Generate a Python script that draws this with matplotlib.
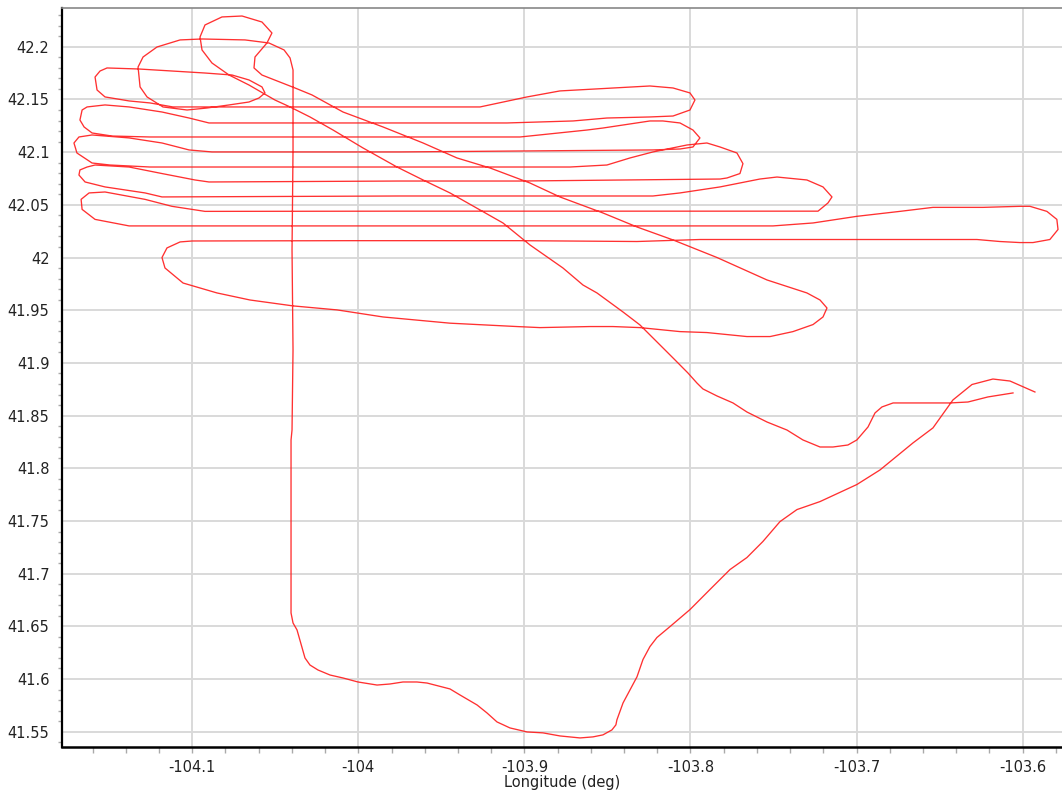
import numpy as np
import matplotlib
matplotlib.use('Agg')
import matplotlib.pyplot as plt
from matplotlib.ticker import MultipleLocator

# flight track (deg)
lon = [
    # start, west then south-east dip
    -103.6058, -103.6209, -103.6329, -103.6438, -103.654, -103.666, -103.678, -103.6847,
    -103.6889, -103.6931, -103.6998, -103.7052, -103.7142, -103.722, -103.7323, -103.7419,
    -103.7539, -103.766, -103.7744, -103.784, -103.7925, -103.7961, -103.8015, -103.8081,
    # steep diagonal to the north-west
    -103.8105, -103.8202, -103.8304, -103.8406, -103.8563, -103.8647, -103.8768, -103.8906,
    -103.8966, -103.9129, -103.9267, -103.9448, -103.961, -103.9767, -103.9972, -104.0152,
    -104.0291, -104.0411, -104.0502, -104.0658, -104.0778, -104.0881, -104.0941, -104.0953,
    # small loop at the top
    -104.0923, -104.0821, -104.07, -104.058, -104.052, -104.055, -104.0622, -104.0628,
    -104.058, -104.0381, -104.0279,
    # shallow diagonal to the south-east
    -104.0092, -103.9851, -103.961, -103.9406, -103.9207, -103.8966, -103.8786, -103.8527,
    -103.8322, -103.8105, -103.784, -103.7539, -103.7299, -103.722, -103.7178, -103.7202,
    -103.7262, -103.7383, -103.7521, -103.766, -103.7901, -103.8063, -103.8304, -103.8467,
    -103.8605, -103.8906, -103.9045, -103.9448, -103.9851, -104.0128, -104.0393, -104.0652,
    -104.0851, -104.1055, -104.1164, -104.1182, -104.1152, -104.1073, -104.1001,
    # leg 42.016 east, turn, leg 42.030 west
    -104.005, -103.9026, -103.8322, -103.7943, -103.6275, -103.6137, -103.6016, -103.5938,
    -103.5836, -103.5787, -103.5794, -103.5854, -103.5956, -103.6016, -103.6239, -103.654,
    -103.6739, -103.6998, -103.7262, -103.7503, -103.7943,
    -103.9749, -104.138, -104.1585, -104.1663, -104.1669, -104.1621, -104.1525, -104.1284,
    -104.1122, -104.0923,
    # leg 42.044 east, turn, leg 42.058 west
    -103.975, -103.7943, -103.7232, -103.7172, -103.7148, -103.7202, -103.7299, -103.7479,
    -103.7582, -103.7822, -103.8063, -103.8226,
    -103.975, -104.1182, -104.1284, -104.1525, -104.1645, -104.1682, -104.1676, -104.1633,
    -104.1585, -104.138, -104.1182, -104.0983, -104.0899,
    # leg 42.072 east, turn, leg 42.086 west
    -103.975, -103.9026, -103.7822, -103.778, -103.7702, -103.7684, -103.772, -103.7822,
    -103.7901, -103.8021, -103.8226, -103.8364, -103.8503, -103.8725, -103.9026,
    -103.975, -104.1254, -104.1495, -104.1603, -104.1694, -104.1712, -104.1682, -104.1603,
    -104.138, -104.1182, -104.1019, -104.0881,
    # leg 42.100 east, turn, leg 42.114 west
    -103.975, -103.9026, -103.8226, -103.8063, -103.7985, -103.7943, -103.7985, -103.8063,
    -103.8166, -103.8244, -103.8527, -103.8623, -103.9026,
    -103.975, -104.1254, -104.1483, -104.1603, -104.1651, -104.1676, -104.1663, -104.1633,
    -104.1525, -104.138, -104.1182, -104.1019, -104.0899,
    # leg 42.128 east, turn, leg 42.143 west
    -104.011, -103.9105, -103.8707, -103.8503, -103.8244, -103.8105, -103.8003, -103.7973,
    -103.8003, -103.8105, -103.8244, -103.8786, -103.8984, -103.9267, -103.9406,
    -104.0351, -104.0772, -104.1116, -104.1254, -104.138, -104.1525, -104.1573, -104.1585,
    -104.1555, -104.1513, -104.132, -104.1122, -104.0923, -104.076, -104.0658, -104.058,
    -104.0562, -104.0598, -104.0658, -104.0778, -104.0911, -104.1031, -104.1176, -104.1272,
    -104.1314, -104.1326, -104.1296, -104.1212, -104.1073, -104.0941, -104.0682, -104.0538,
    -104.0447, -104.0411, -104.0393,
    # run south, then back north-east
    -104.0393, -104.0399, -104.0393, -104.0399, -104.0405, -104.0405, -104.0405, -104.0393,
    -104.0369, -104.0321, -104.0291, -104.0243, -104.017, -104.0092, -104.0002, -103.9887,
    -103.9809, -103.9731, -103.9647, -103.9586, -103.9448, -103.9388, -103.9285, -103.9225,
    -103.9165, -103.9087, -103.8984, -103.8888, -103.8786, -103.8665, -103.8587, -103.8527,
    -103.8473, -103.8449, -103.8443, -103.8406, -103.8364, -103.8322, -103.8286, -103.8244,
    -103.8202, -103.8123, -103.8003, -103.7883, -103.7762, -103.766, -103.7564, -103.7461,
    -103.7359, -103.722, -103.6998, -103.6859, -103.666, -103.654, -103.642, -103.6305,
    -103.6179, -103.6076, -103.5926,
]
lat = [
    41.8715, 41.8677, 41.8629, 41.8620, 41.862, 41.862, 41.862, 41.8582,
    41.8525, 41.8392, 41.8269, 41.8221, 41.8202, 41.8202, 41.8269, 41.8363,
    41.8439, 41.8534, 41.862, 41.8686, 41.8753, 41.8809, 41.8904, 41.9009,
    41.9047, 41.9199, 41.936, 41.9483, 41.9664, 41.9739, 41.9901, 42.0053,
    42.0119, 42.0328, 42.0451, 42.0613, 42.0736, 42.0859, 42.104, 42.121,
    42.1334, 42.1429, 42.1495, 42.1637, 42.1732, 42.1846, 42.197, 42.2093,
    42.2207, 42.2283, 42.2292, 42.2235, 42.2131, 42.2036, 42.1903, 42.1799,
    42.1732, 42.1609, 42.1543,
    42.1381, 42.1239, 42.1087, 42.0945, 42.085, 42.0707, 42.0575, 42.0423,
    42.029, 42.0167, 42.0, 41.9787, 41.9664, 41.9597, 41.9521, 41.9436,
    41.9364, 41.9297, 41.925, 41.925, 41.9288, 41.9297, 41.9335, 41.9345,
    41.9345, 41.9335, 41.9345, 41.9377, 41.9436, 41.9503, 41.9541, 41.9597,
    41.9664, 41.9758, 41.9901, 42.0, 42.0091, 42.0148, 42.0157,
    42.016, 42.016, 42.0152, 42.0171, 42.0171, 42.0152, 42.0142, 42.0142,
    42.0171, 42.0266, 42.0362, 42.0438, 42.0486, 42.0486, 42.0476, 42.0476,
    42.0438, 42.0391, 42.0328, 42.030, 42.030,
    42.030, 42.030, 42.0362, 42.0457, 42.0552, 42.0613, 42.0622, 42.0552,
    42.0486, 42.0438,
    42.044, 42.044, 42.044, 42.0518, 42.0575, 42.067, 42.0736, 42.0764,
    42.0745, 42.067, 42.0613, 42.0584,
    42.0584, 42.0575, 42.0613, 42.067, 42.0717, 42.0783, 42.0831, 42.0859,
    42.0878, 42.0859, 42.0797, 42.0736, 42.0717,
    42.0726, 42.0726, 42.0745, 42.0755, 42.0797, 42.0891, 42.0992, 42.1049,
    42.1087, 42.1068, 42.1002, 42.0945, 42.0878, 42.0859, 42.0859,
    42.0859, 42.0859, 42.0878, 42.0897, 42.0992, 42.1087, 42.1144, 42.1163,
    42.1135, 42.1087, 42.1021, 42.1002,
    42.1002, 42.1011, 42.1021, 42.103, 42.1049, 42.1135, 42.121, 42.1277,
    42.1296, 42.1296, 42.1229, 42.121, 42.1144,
    42.1144, 42.1144, 42.1153, 42.1182, 42.1239, 42.1305, 42.14, 42.1429,
    42.1448, 42.1429, 42.1381, 42.1324, 42.1277,
    42.1277, 42.1277, 42.1296, 42.1324, 42.1334, 42.1343, 42.14, 42.1495,
    42.1562, 42.1609, 42.1628, 42.1581, 42.1524, 42.1429, 42.1429,
    42.1429, 42.1429, 42.1429, 42.1467, 42.1486, 42.1524, 42.159, 42.1713,
    42.177, 42.1799, 42.1789, 42.177, 42.1751, 42.1732, 42.1685, 42.1619,
    42.1562, 42.1514, 42.1476, 42.1448, 42.1419, 42.14, 42.1429, 42.1524,
    42.1619, 42.1808, 42.1903, 42.1998, 42.2065, 42.2074, 42.2065, 42.2036,
    42.197, 42.1894, 42.178,
    42.1021, 42.0072, 41.9123, 41.8363, 41.8268, 41.7699, 41.6627, 41.6532,
    41.6466, 41.62, 41.6133, 41.6086, 41.6038, 41.601, 41.5972, 41.5943,
    41.5953, 41.5972, 41.5972, 41.5962, 41.5906, 41.5849, 41.5754, 41.5678,
    41.5593, 41.5536, 41.5498, 41.5489, 41.546, 41.5441, 41.5451, 41.547,
    41.5517, 41.5565, 41.5612, 41.5773, 41.5897, 41.6021, 41.6185, 41.6308,
    41.6394, 41.6498, 41.6659, 41.6849, 41.7039, 41.7153, 41.7305, 41.7494,
    41.7608, 41.7684, 41.7846, 41.7984, 41.8241, 41.8383, 41.8648, 41.8795,
    41.8847, 41.8828, 41.8724,
]

x_range = (-104.1784, -103.5763)
y_range = (41.5355, 42.2368)

plt.rcParams['font.family'] = ['DejaVu Sans']
fig = plt.figure(figsize=(10.62, 7.97), dpi=100)
ax = fig.add_axes([62 / 1062, 1 - 747 / 797, 1 - 62 / 1062, (747 - 8) / 797])

ax.plot(lon, lat, color='#ff1a1a', lw=0.95, alpha=0.9, zorder=3,
        solid_joinstyle='round')

ax.set_xlim(*x_range)
ax.set_ylim(*y_range)
ax.xaxis.set_major_locator(MultipleLocator(0.1))
ax.xaxis.set_minor_locator(MultipleLocator(0.02))
ax.yaxis.set_major_locator(MultipleLocator(0.05))
ax.yaxis.set_minor_locator(MultipleLocator(0.01))
fmt = plt.FuncFormatter(lambda v, p: ('%.2f' % v).rstrip('0').rstrip('.'))
ax.xaxis.set_major_formatter(fmt)
ax.yaxis.set_major_formatter(fmt)

ax.grid(True, which='major', color='#d9d9d9', lw=1.4, zorder=0)
ax.tick_params(axis='x', which='both', direction='out', length=4, width=1,
               color='#aaaaaa', labelsize=10.5, labelcolor='#222222', pad=5)
ax.tick_params(axis='y', which='major', length=0, labelsize=10.5,
               labelcolor='#222222', pad=9)
ax.tick_params(axis='y', which='minor', direction='out', length=3, width=1, color='#aaaaaa')

ax.spines['left'].set_color('black')
ax.spines['left'].set_linewidth(1.6)
ax.spines['bottom'].set_color('black')
ax.spines['bottom'].set_linewidth(1.8)
ax.spines['top'].set_color('#888888')
ax.spines['top'].set_linewidth(1.2)
ax.spines['right'].set_visible(False)

ax.set_xlabel('Longitude (deg)', fontsize=10.5, color='#222222', labelpad=0)

fig.savefig('out.png', dpi=100)
